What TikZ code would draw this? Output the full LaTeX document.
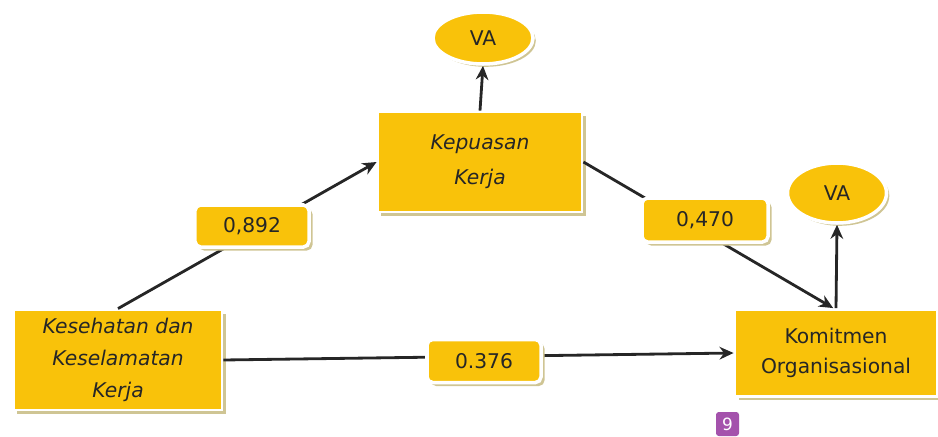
\documentclass[tikz,border=0pt]{standalone}
\usepackage{fontspec}
\setmainfont{DejaVu Sans}
\usetikzlibrary{shapes.geometric,shadows,arrows.meta}
\definecolor{boxfill}{HTML}{F9C20A}
\definecolor{boxshade}{HTML}{CFC594}
\definecolor{badge}{HTML}{A452AC}
\tikzset{
  varbox/.style={rectangle,fill=boxfill,draw=white,line width=2pt,
    drop shadow={shadow xshift=2.5pt,shadow yshift=-2.5pt,fill=boxshade,opacity=1},
    align=center,text=black!85,inner sep=0pt},
  vabox/.style={ellipse,fill=boxfill,draw=white,line width=2.5pt,
    drop shadow={shadow xshift=2pt,shadow yshift=-2pt,fill=boxshade,opacity=1},
    text=black!85,inner sep=0pt},
  coefbox/.style={rectangle,rounded corners=4pt,fill=boxfill,draw=white,line width=2.5pt,
    drop shadow={shadow xshift=2.5pt,shadow yshift=-2.5pt,fill=boxshade,opacity=1},
    text=black!85,inner sep=0pt,minimum width=2.85cm,minimum height=1.05cm},
  path/.style={line width=2pt,black!85,-{Stealth[length=10pt,width=9pt]}}
}
\begin{document}
\begin{tikzpicture}[x=0.025cm,y=0.025cm,font=\fontsize{14.4}{22}\selectfont]
  \useasboundingbox (0,0) rectangle (938,436);
  \node[varbox,minimum width=5.1cm,minimum height=2.5cm,
    font=\fontsize{14.4}{25}\selectfont\itshape] (kk) at (480,274) {Kepuasan\\Kerja};
  \node[varbox,minimum width=5.2cm,minimum height=2.5cm,
    font=\fontsize{14.4}{22.5}\selectfont\itshape] (k3) at (118,76)
    {Kesehatan dan\\Keselamatan\\Kerja};
  \node[varbox,minimum width=5.05cm,minimum height=2.175cm,
    font=\fontsize{14.4}{21}\selectfont] (ko) at (836,83) {Komitmen\\Organisasional};
  \node[vabox,minimum width=2.5cm,minimum height=1.3cm] (va1) at (483,398) {VA};
  \node[vabox,minimum width=2.475cm,minimum height=1.5cm] (va2) at (837,243) {VA};
  \draw[path] (kk.north) -- (va1.south);
  \draw[path] (ko.north) -- (va2.south);
  \draw[path] (k3.north) -- (kk.west);
  \draw[path] (kk.east) -- ([xshift=-2pt]ko.north);
  \draw[path] (k3.east) -- (ko.west);
  \node[coefbox] (c1) at (252,210) {0,892};
  \node[coefbox,minimum width=3.15cm,minimum height=1.1cm] (c2) at (705,216) {0,470};
  \node[coefbox,minimum height=1.075cm] (c3) at (484,75) {0.376};
  \node[rectangle,rounded corners=2pt,fill=badge,text=white,minimum width=0.575cm,
    minimum height=0.6cm,inner sep=0pt,font=\fontsize{12}{12}\selectfont] (pg) at (727.5,12) {9};
\end{tikzpicture}
\end{document}
